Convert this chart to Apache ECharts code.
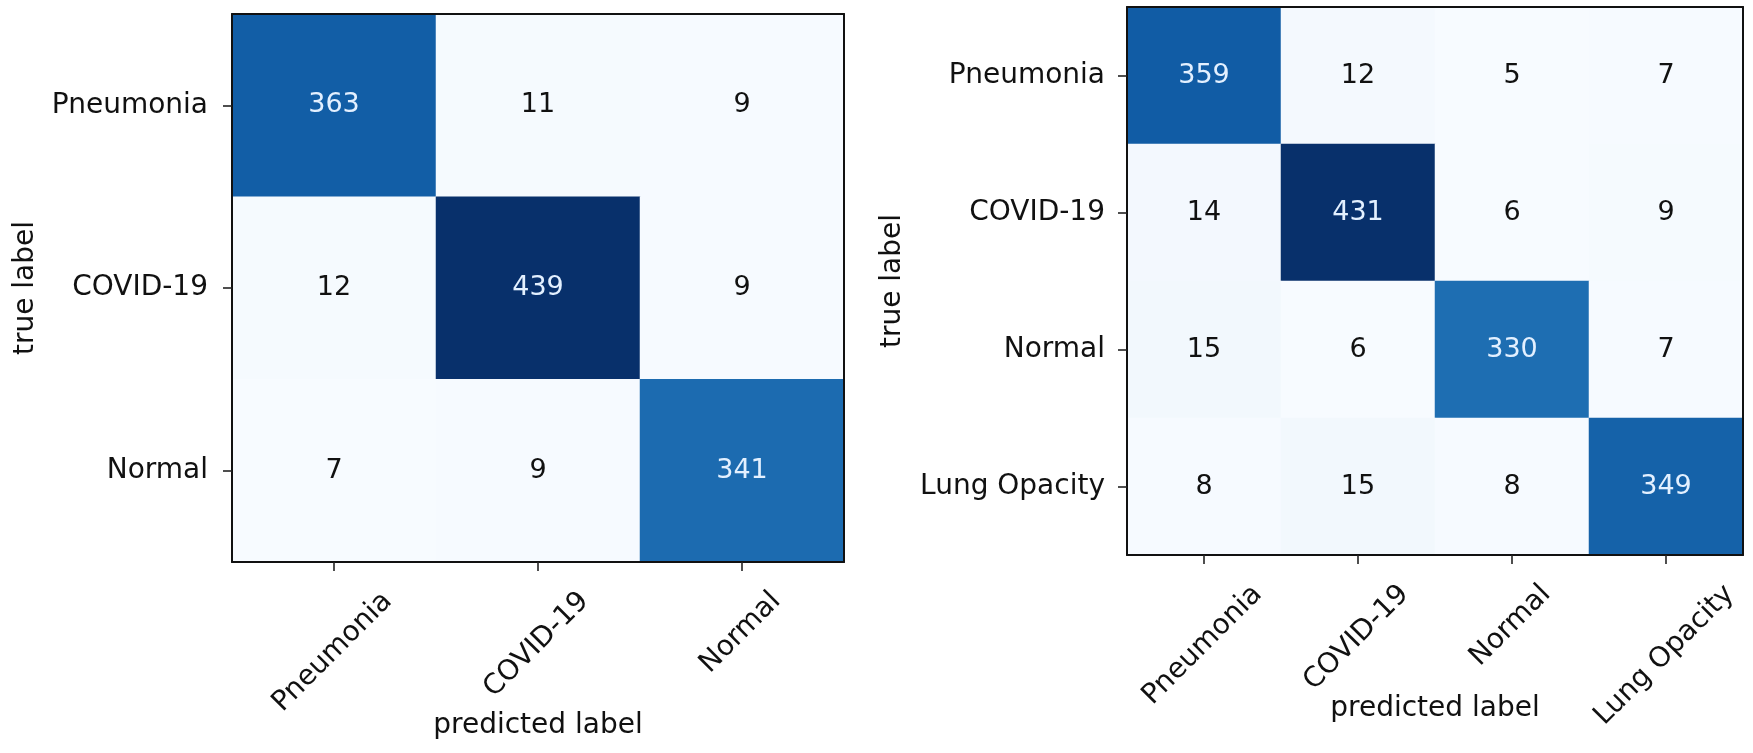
<!DOCTYPE html>
<html><head><meta charset="utf-8">
<script src="https://cdn.jsdelivr.net/npm/echarts@6/dist/echarts.min.js"></script>
<style>html,body{margin:0;padding:0;background:#fff}#c{width:1753px;height:753px}</style>
</head><body><div id="c"></div>
<script>
// ---- data ----
const labels3 = ['Pneumonia', 'COVID-19', 'Normal'];
const matrix3 = [
  [363, 11, 9],
  [12, 439, 9],
  [7, 9, 341]
];
const labels4 = ['Pneumonia', 'COVID-19', 'Normal', 'Lung Opacity'];
const matrix4 = [
  [359, 12, 5, 7],
  [14, 431, 6, 9],
  [15, 6, 330, 7],
  [8, 15, 8, 349]
];
const xTitle = 'predicted label';
const yTitle = 'true label';

// ---- style ----
const FONT = 'DejaVu Sans';
const FS = 28;
const NUM_FS = 27;
const blues = ['#f7fbff','#deebf7','#c6dbef','#9ecae1','#6baed6','#4292c6','#2171b5','#08519c','#08306b'];

const ctx = document.createElement('canvas').getContext('2d');
ctx.font = FS + 'px "' + FONT + '"';
// rotated tick labels centred under their ticks (matplotlib-like rotation=45, ha=center)
function xCats(labels) {
  const h = FS * 1.15;
  return labels.map(l => {
    const w = ctx.measureText(l).width;
    const pr = (w + h) / 2;
    const pt = Math.max(0, (w - h) / 4);
    return { value: l, textStyle: { align: 'center', verticalAlign: 'top', padding: [pt, pr, 0, 0],
      fontFamily: FONT, fontSize: FS, color: '#111' } };
  });
}
function cells(m) {
  const mx = Math.max(...m.flat());
  const out = [];
  m.forEach((row, i) => row.forEach((v, j) => {
    out.push({ value: [j, i, v], label: { color: v > mx / 2 ? '#e3f0ff' : '#111' } });
  }));
  return out;
}
const grids = [
  { left: 232, top: 14, width: 612, height: 548, outerBoundsMode: 'none', containLabel: false },
  { left: 1127, top: 7, width: 616, height: 548, outerBoundsMode: 'none', containLabel: false }
];
const tick = { show: true, alignWithLabel: true, length: 9, lineStyle: { color: '#222', width: 1.6 } };
const line = { show: true, lineStyle: { color: '#111', width: 2 } };
function xAxes(gi, labels, nameGap) {
  return [{
    type: 'category', gridIndex: gi, data: xCats(labels), position: 'bottom', z: 10,
    axisLine: line, axisTick: tick, splitLine: { show: false },
    axisLabel: { interval: 0, rotate: 45, align: 'center', verticalAlign: 'top', margin: 25,
      hideOverlap: false, fontFamily: FONT, fontSize: FS, color: '#111' },
    name: xTitle, nameLocation: 'middle', nameGap: nameGap, nameMoveOverlap: false,
    nameTextStyle: { fontFamily: FONT, fontSize: FS, color: '#111' }
  }, {
    type: 'category', gridIndex: gi, data: labels, position: 'top', z: 10,
    axisLine: line, axisTick: { show: false }, axisLabel: { show: false }
  }];
}
function yAxes(gi, labels, nameGap, margin) {
  return [{
    type: 'category', gridIndex: gi, data: labels, inverse: true, position: 'left', z: 10,
    axisLine: line, axisTick: tick, splitLine: { show: false },
    axisLabel: { interval: 0, margin: margin, fontFamily: FONT, fontSize: FS, color: '#111' },
    name: yTitle, nameLocation: 'middle', nameRotate: 90, nameGap: nameGap, nameMoveOverlap: false,
    nameTextStyle: { fontFamily: FONT, fontSize: FS, color: '#111' }
  }, {
    type: 'category', gridIndex: gi, data: labels, inverse: true, position: 'right', z: 10,
    axisLine: line, axisTick: { show: false }, axisLabel: { show: false }
  }];
}
const option = {
  backgroundColor: '#fff',
  animation: false,
  grid: grids,
  xAxis: [...xAxes(0, labels3, 150), ...xAxes(1, labels4, 140)],
  yAxis: [...yAxes(0, labels3, 192, 24), ...yAxes(1, labels4, 220, 22)],
  visualMap: [
    { show: false, seriesIndex: 0, min: Math.min(...matrix3.flat()), max: Math.max(...matrix3.flat()), inRange: { color: blues } },
    { show: false, seriesIndex: 1, min: Math.min(...matrix4.flat()), max: Math.max(...matrix4.flat()), inRange: { color: blues } }
  ],
  series: [
    { type: 'heatmap', xAxisIndex: 0, yAxisIndex: 0, data: cells(matrix3),
      label: { show: true, formatter: p => p.value[2], fontFamily: FONT, fontSize: NUM_FS },
      emphasis: { disabled: true } },
    { type: 'heatmap', xAxisIndex: 2, yAxisIndex: 2, data: cells(matrix4),
      label: { show: true, formatter: p => p.value[2], fontFamily: FONT, fontSize: NUM_FS },
      emphasis: { disabled: true } }
  ]
};
const chart = echarts.init(document.getElementById('c'));
chart.setOption(option);
</script>
</body></html>
